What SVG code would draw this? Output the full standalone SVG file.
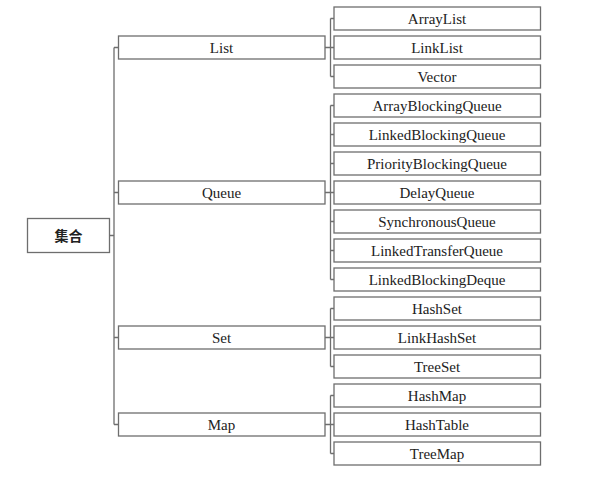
<svg xmlns="http://www.w3.org/2000/svg" width="614" height="486" viewBox="0 0 614 486">
<style>
rect{fill:#fff;stroke:#6e6e6e;stroke-width:1.3}
text{font-family:"Liberation Serif","Noto Sans CJK SC",serif;font-size:15px;fill:#222;text-anchor:middle}
.c path{fill:none;stroke:#6e6e6e;stroke-width:1.3}
</style>
<rect x="0" y="0" width="614" height="486" style="fill:#fff;stroke:none"/>
<g class="c" id="connectors">
<path d="M109 235.5H114M114 47.5V424.5M114 47.5H118M114 192.5H118M114 337.5H118M114 424.5H118"/>
<path d="M325 47.5H330.5M330.5 18.5V76.5M330.5 18.5H334M330.5 47.5H334M330.5 76.5H334"/>
<path d="M325 192.5H330.5M330.5 105.5V279.5M330.5 105.5H334M330.5 134.5H334M330.5 163.5H334M330.5 192.5H334M330.5 221.5H334M330.5 250.5H334M330.5 279.5H334"/>
<path d="M325 337.5H330.5M330.5 308.5V366.5M330.5 308.5H334M330.5 337.5H334M330.5 366.5H334"/>
<path d="M325 424.5H330.5M330.5 395.5V453.5M330.5 395.5H334M330.5 424.5H334M330.5 453.5H334"/>
</g>
<g id="root"><rect x="27.5" y="218.5" width="82" height="34"/><text x="68.5" y="241" style="font-size:14px;font-weight:bold">集合</text></g>
<g id="list"><rect x="118.5" y="36" width="206.5" height="23"/><text x="221.5" y="52.5">List</text></g>
<g id="queue"><rect x="118.5" y="181" width="206.5" height="23"/><text x="221.5" y="197.5">Queue</text></g>
<g id="set"><rect x="118.5" y="326" width="206.5" height="23"/><text x="221.5" y="342.5">Set</text></g>
<g id="map"><rect x="118.5" y="413" width="206.5" height="23"/><text x="221.5" y="429.5">Map</text></g>
<g id="arraylist"><rect x="334" y="7" width="206.5" height="23"/><text x="437" y="23.5">ArrayList</text></g>
<g id="linklist"><rect x="334" y="36" width="206.5" height="23"/><text x="437" y="52.5">LinkList</text></g>
<g id="vector"><rect x="334" y="65" width="206.5" height="23"/><text x="437" y="81.5">Vector</text></g>
<g id="arrayblockingqueue"><rect x="334" y="94" width="206.5" height="23"/><text x="437" y="110.5">ArrayBlockingQueue</text></g>
<g id="linkedblockingqueue"><rect x="334" y="123" width="206.5" height="23"/><text x="437" y="139.5">LinkedBlockingQueue</text></g>
<g id="priorityblockingqueue"><rect x="334" y="152" width="206.5" height="23"/><text x="437" y="168.5">PriorityBlockingQueue</text></g>
<g id="delayqueue"><rect x="334" y="181" width="206.5" height="23"/><text x="437" y="197.5">DelayQueue</text></g>
<g id="synchronousqueue"><rect x="334" y="210" width="206.5" height="23"/><text x="437" y="226.5">SynchronousQueue</text></g>
<g id="linkedtransferqueue"><rect x="334" y="239" width="206.5" height="23"/><text x="437" y="255.5">LinkedTransferQueue</text></g>
<g id="linkedblockingdeque"><rect x="334" y="268" width="206.5" height="23"/><text x="437" y="284.5">LinkedBlockingDeque</text></g>
<g id="hashset"><rect x="334" y="297" width="206.5" height="23"/><text x="437" y="313.5">HashSet</text></g>
<g id="linkhashset"><rect x="334" y="326" width="206.5" height="23"/><text x="437" y="342.5">LinkHashSet</text></g>
<g id="treeset"><rect x="334" y="355" width="206.5" height="23"/><text x="437" y="371.5">TreeSet</text></g>
<g id="hashmap"><rect x="334" y="384" width="206.5" height="23"/><text x="437" y="400.5">HashMap</text></g>
<g id="hashtable"><rect x="334" y="413" width="206.5" height="23"/><text x="437" y="429.5">HashTable</text></g>
<g id="treemap"><rect x="334" y="442" width="206.5" height="23"/><text x="437" y="458.5">TreeMap</text></g>
</svg>
